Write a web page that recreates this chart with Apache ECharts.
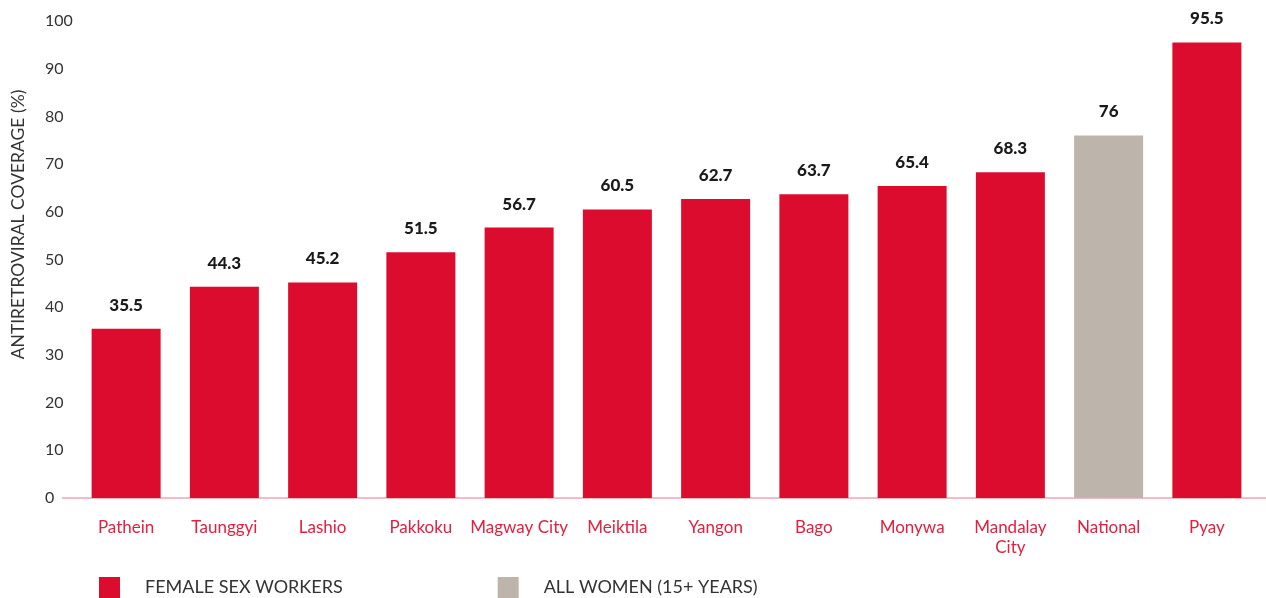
<!DOCTYPE html>
<html>
<head>
<meta charset="utf-8">
<script src="https://cdn.jsdelivr.net/npm/echarts@6/dist/echarts.min.js"></script>
<style>
  html, body { margin: 0; padding: 0; background: #fff; }
  #chart { width: 1266px; height: 598px; }
</style>
</head>
<body>
<div id="chart"></div>
<script>
// 数据
const cities = ['Pathein', 'Taunggyi', 'Lashio', 'Pakkoku', 'Magway City', 'Meiktila', 'Yangon', 'Bago', 'Monywa', 'Mandalay\nCity', 'National', 'Pyay'];
const fswValues = [35.5, 44.3, 45.2, 51.5, 56.7, 60.5, 62.7, 63.7, 65.4, 68.3, null, 95.5];
const allWomenValues = [null, null, null, null, null, null, null, null, null, null, 76, null];
const seriesNames = ['FEMALE SEX WORKERS', 'ALL WOMEN (15+ YEARS)'];

const chart = echarts.init(document.getElementById('chart'));

// 柱顶数值标签
const valueLabel = {
    show: true,
    position: 'top',
    distance: 15,
    color: '#1a1a1a',
    fontFamily: 'Lato',
    fontWeight: 900,
    fontSize: 17
};

const option = {
    backgroundColor: '#fff',
    animation: false,
    textStyle: { fontFamily: 'Lato' },
    grid: {
        left: 77,
        right: 10,
        top: 21,
        bottom: 100,
        outerBoundsMode: 'none'
    },
    legend: {
        data: seriesNames,
        left: 99,
        top: 577,
        padding: 0,
        itemWidth: 21,
        itemHeight: 21,
        itemGap: 155,
        icon: 'rect',
        textStyle: { color: '#333', fontSize: 18, fontFamily: 'Lato', padding: [0, 0, 0, 20] }
    },
    xAxis: {
        type: 'category',
        data: cities,
        axisLine: { show: false },
        axisTick: { show: false },
        axisLabel: {
            color: '#e0213f',
            fontSize: 17,
            fontFamily: 'Lato',
            margin: 20,
            lineHeight: 20,
            interval: 0
        }
    },
    yAxis: {
        type: 'value',
        min: 0,
        max: 100,
        interval: 10,
        name: 'ANTIRETROVIRAL COVERAGE (%)',
        nameLocation: 'middle',
        nameGap: 50,
        nameTextStyle: { color: '#333', fontSize: 17.5, fontFamily: 'Lato', padding: [0, 0, 0, 70] },
        axisLine: { show: false },
        axisTick: { show: false },
        splitLine: { show: false },
        axisLabel: {
            color: '#333',
            fontSize: 16,
            fontFamily: 'Lato',
            align: 'left',
            margin: 32
        }
    },
    series: [
        {
            name: seriesNames[0],
            type: 'bar',
            data: fswValues,
            barWidth: 69,
            barGap: '-100%',
            itemStyle: { color: '#dc0c2f' },
            label: valueLabel
        },
        {
            name: seriesNames[1],
            type: 'bar',
            data: allWomenValues,
            barWidth: 69,
            itemStyle: { color: '#bdb4ab' },
            label: valueLabel
        }
    ]
};

chart.setOption(option);

// 基线比网格更宽，单独画一条
const baseY = chart.convertToPixel({ yAxisIndex: 0 }, 0);
chart.setOption({
    graphic: [{
        type: 'line',
        z: 1,
        shape: { x1: 62, y1: baseY, x2: 1266, y2: baseY },
        style: { stroke: '#e8798c', lineWidth: 1 }
    }]
});
</script>
</body>
</html>
